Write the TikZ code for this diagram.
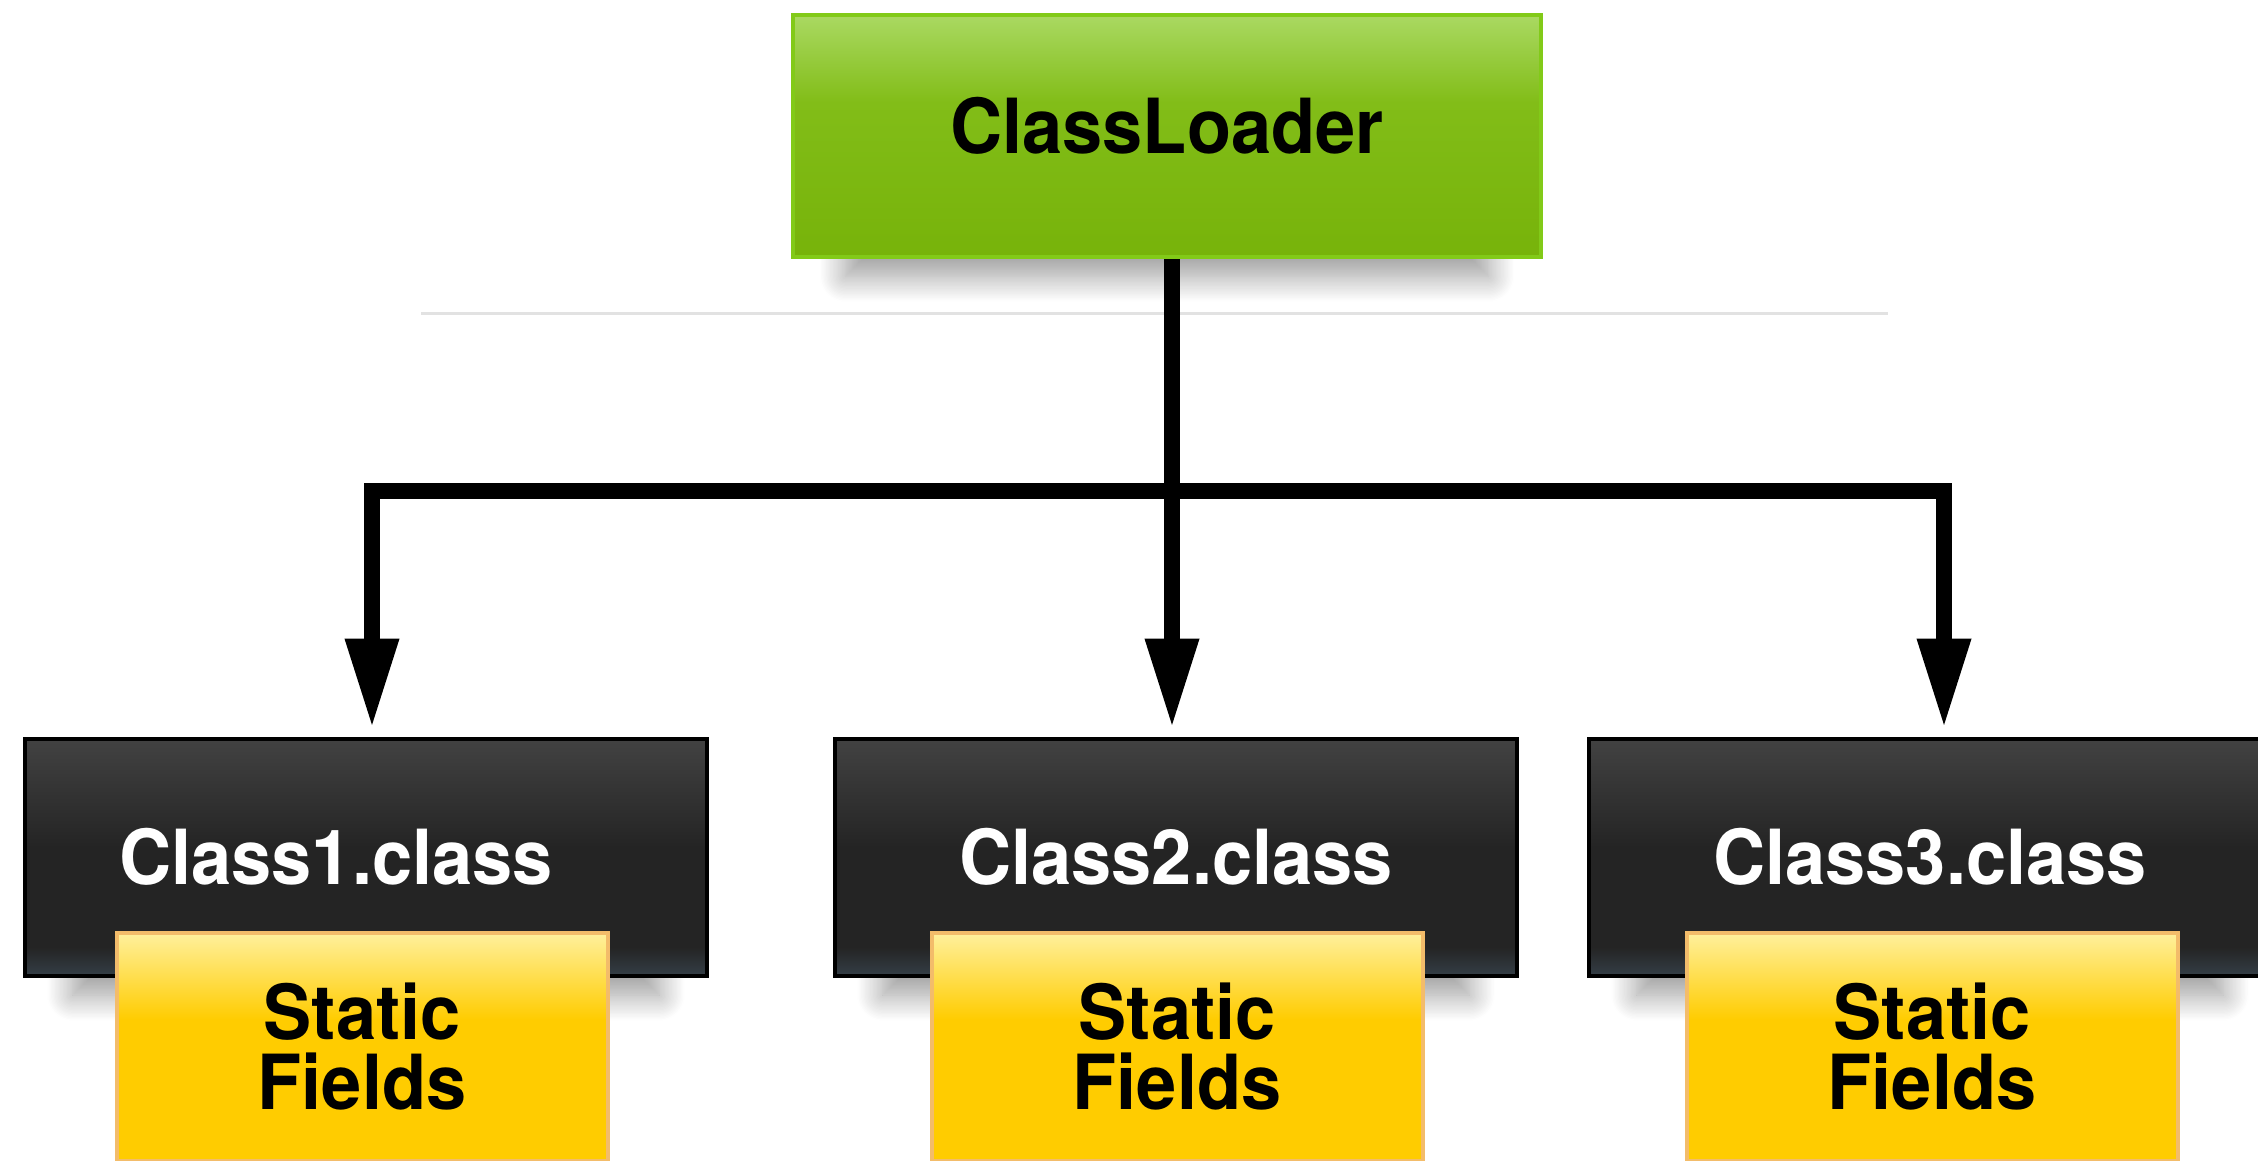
\documentclass[tikz,border=0pt]{standalone}
\usepackage{fontspec}
\setmainfont{TeX Gyre Heros}[FakeStretch=0.95]
\usetikzlibrary{arrows.meta,shadows.blur}

\definecolor{loadtop}{HTML}{AAD962}
\definecolor{loadmid}{HTML}{82BD18}
\definecolor{loadbot}{HTML}{77B30A}
\definecolor{loadrim}{HTML}{82CA18}
\definecolor{darktop}{HTML}{424242}
\definecolor{darkmid}{HTML}{242424}
\definecolor{darkbot}{HTML}{343E46}
\definecolor{fieldtop}{HTML}{FFF09C}
\definecolor{fieldbot}{HTML}{FFCC00}
\definecolor{fieldrim}{HTML}{F3BC6A}
\definecolor{rulegray}{HTML}{E2E2E2}

\pgfdeclareverticalshading{greenfill}{100bp}{color(0bp)=(loadbot); color(25bp)=(loadbot); color(57bp)=(loadmid); color(75bp)=(loadtop); color(100bp)=(loadtop)}
\pgfdeclareverticalshading{darkfill}{100bp}{color(0bp)=(darkbot); color(25bp)=(darkbot); color(31bp)=(darkmid); color(52bp)=(darkmid); color(75bp)=(darktop); color(100bp)=(darktop)}
\pgfdeclareverticalshading{yellowfill}{100bp}{color(0bp)=(fieldbot); color(25bp)=(fieldbot); color(56bp)=(fieldbot); color(75bp)=(fieldtop); color(100bp)=(fieldtop)}

\begin{document}
\begin{tikzpicture}[x=1pt,y=-1pt,
    bigtext/.style={font=\bfseries\fontsize{76}{70}\selectfont},
    softshadow/.style={blur shadow={shadow xshift=0pt,shadow yshift=-42pt,shadow scale=0.86,
      shadow blur radius=30pt,shadow blur steps=20,shadow opacity=40}},
    loaderbox/.style={bigtext,softshadow,draw=loadrim,line width=4pt,shade,shading=greenfill,
      minimum width=748pt,minimum height=242pt},
    classbox/.style={bigtext,softshadow,draw=black,line width=4pt,shade,shading=darkfill,text=white,
      minimum width=682pt,minimum height=237pt},
    fieldbox/.style={bigtext,draw=fieldrim,line width=4pt,shade,shading=yellowfill,align=center,
      minimum width=491pt,minimum height=228pt},
    link/.style={line width=16pt,line join=miter,shorten >=8pt,-{Triangle[length=90pt,width=50pt]}},
    twolink/.style={link,shorten <=8pt,{Triangle[length=90pt,width=50pt]}-{Triangle[length=90pt,width=50pt]}}]
  \useasboundingbox (0,0) rectangle (2258,1161);
  \draw[rulegray,line width=3pt] (421,313) -- (1888,313);

  \node[loaderbox,text depth=22pt] (loader) at (1167,136) {ClassLoader};

  \node[classbox] (c1) at (366,857) {Class1.class\hspace*{60pt}};
  \node[classbox] (c2) at (1176,857) {Class2.class};
  \node[classbox] (c3) at (1930,857) {Class3.class};

  \node[fieldbox] (f1) at (362,1047) {Static\\Fields};
  \node[fieldbox] (f2) at (1177,1047) {Static\\Fields};
  \node[fieldbox] (f3) at (1932,1047) {Static\\Fields};

  % bus
  \coordinate (j1) at (372,491);
  \coordinate (j2) at (1172,491);
  \coordinate (j3) at (1944,491);
  \draw[link] (j2 |- loader.south) -- (j2 |- c2.north);
  \draw[twolink] (j1 |- c1.north) -- (j1) -- (j3) -- (j3 |- c3.north);
\end{tikzpicture}
\end{document}
